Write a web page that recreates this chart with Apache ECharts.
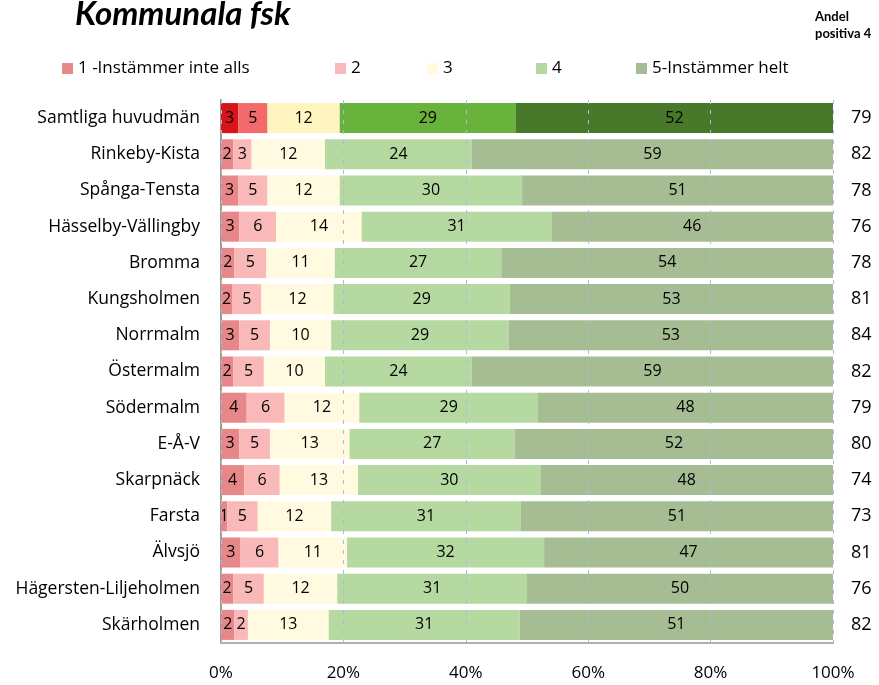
<!DOCTYPE html>
<html>
<head>
<meta charset="utf-8">
<script src="https://cdn.jsdelivr.net/npm/echarts@6/dist/echarts.min.js"></script>
<style>
  html, body { margin: 0; padding: 0; background: #fff; }
  #chart { width: 879px; height: 685px; }
</style>
</head>
<body>
<div id="chart"></div>
<script>
// Data (shares in %, labels show them rounded)
const categories = ['Samtliga huvudmän', 'Rinkeby-Kista', 'Spånga-Tensta', 'Hässelby-Vällingby', 'Bromma',
    'Kungsholmen', 'Norrmalm', 'Östermalm', 'Södermalm', 'E-Å-V', 'Skarpnäck', 'Farsta', 'Älvsjö',
    'Hägersten-Liljeholmen', 'Skärholmen'];
const level1 = [2.8, 2, 2.8, 3, 2.2, 1.8, 3, 2, 4.2, 3, 3.8, 1, 3.2, 2, 2.2];
const level2 = [4.8, 3, 4.8, 6, 5.2, 4.8, 5, 5, 6.2, 5, 5.8, 5, 6.2, 5, 2.2];
const level3 = [11.8, 12, 11.8, 14, 11.2, 11.8, 10, 10, 12.2, 13, 12.8, 12, 11.2, 12, 13.2];
const level4 = [28.8, 24, 29.8, 31, 27.2, 28.8, 29, 24, 29.2, 27, 29.8, 31, 32.2, 31, 31.2];
const level5 = [51.8, 59, 50.8, 46, 54.2, 52.8, 53, 59, 48.2, 52, 47.8, 51, 47.2, 50, 51.2];
const positive = [79, 82, 78, 76, 78, 81, 84, 82, 79, 80, 74, 73, 81, 76, 82];
const levelNames = ['1 -Instämmer inte alls', '2', '3', '4', '5-Instämmer helt'];
const xTicks = [0, 20, 40, 60, 80, 100];

const levels = [level1, level2, level3, level4, level5];
const baseColors = ['#e8878a', '#f9b9b9', '#fffae0', '#b5d9a1', '#a6bd94'];
const highlightColors = ['#d7141a', '#f46a6a', '#fff5c0', '#69b23c', '#48782a'];
const legendLeft = [57, 330, 422, 531, 631];
const font = '"Open Sans", Lato, sans-serif';

function initChart() {
    const el = document.getElementById('chart');
    const chart = echarts.init(el);

    const series = levels.map((vals, i) => ({
        name: levelNames[i],
        type: 'bar',
        stack: 'total',
        barCategoryGap: '17%',
        itemStyle: { color: baseColors[i] },
        label: {
            show: true,
            position: 'inside',
            color: '#000',
            fontSize: 16,
            fontFamily: font,
            formatter: p => Math.round(p.value)
        },
        data: vals.map((v, j) => j === 0
            ? { value: v, itemStyle: { color: highlightColors[i] } }
            : v)
    }));

    const legends = levelNames.map((n, i) => ({
        data: [n],
        left: legendLeft[i],
        top: 55,
        itemWidth: 11,
        itemHeight: 11,
        icon: 'rect',
        selectedMode: false,
        textStyle: { fontSize: 17, color: '#000', fontFamily: font }
    }));

    const option = {
        backgroundColor: '#fff',
        animation: false,
        title: [{
            text: 'Kommunala fsk',
            left: 70,
            top: -7,
            textStyle: { fontSize: 33, fontWeight: 'bold', fontStyle: 'italic', color: '#000', fontFamily: 'Lato, sans-serif' }
        }, {
            text: 'Andel\npositiva 4',
            left: 810,
            top: 3,
            textStyle: { fontSize: 13, fontWeight: 'bold', color: '#000', lineHeight: 17, fontFamily: 'Lato, sans-serif' }
        }],
        legend: legends,
        grid: { left: 221, right: 46, top: 100, bottom: 42 },
        xAxis: {
            type: 'value',
            min: 0,
            max: 100,
            interval: 20,
            z: 3,
            axisLine: { show: true, lineStyle: { color: '#b0b0b0', width: 2 } },
            axisTick: { show: false },
            axisLabel: {
                margin: 22,
                fontSize: 17,
                color: '#000',
                fontFamily: font,
                formatter: v => xTicks.includes(v) ? v + '%' : ''
            },
            splitLine: {
                show: true,
                lineStyle: { color: '#a9bedb', type: [4, 6], width: 1 }
            }
        },
        yAxis: [{
            type: 'category',
            data: categories,
            inverse: true,
            axisLine: { show: true, lineStyle: { color: '#999', width: 2 } },
            axisTick: { show: false },
            axisLabel: { fontSize: 17.5, color: '#000', margin: 21, fontFamily: font }
        }, {
            type: 'category',
            data: positive.map(String),
            inverse: true,
            position: 'right',
            axisLine: { show: false },
            axisTick: { show: false },
            axisLabel: { fontSize: 18, color: '#000', margin: 18, fontFamily: font }
        }],
        series: series
    };

    chart.setOption(option);
}

initChart();
</script>
</body>
</html>
